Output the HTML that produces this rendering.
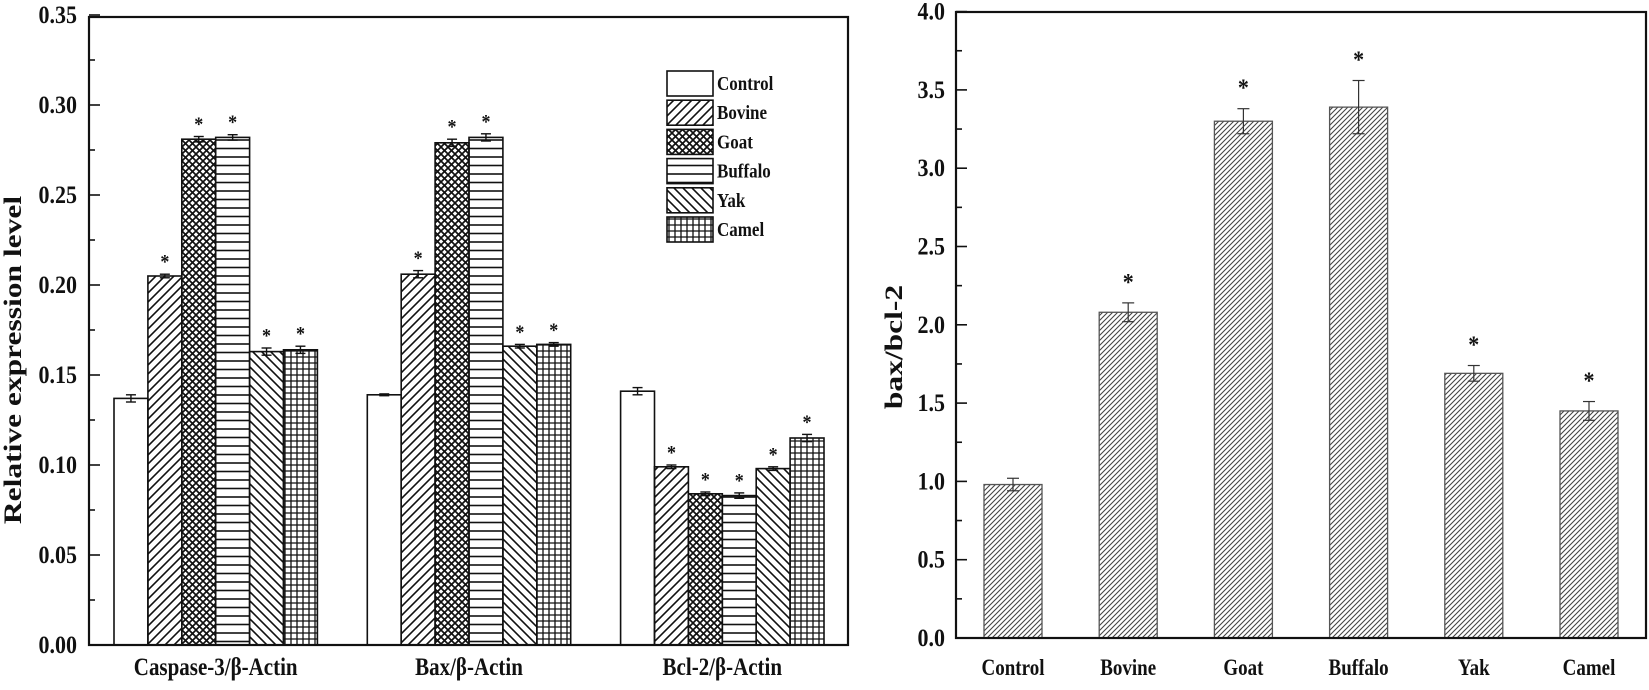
<!DOCTYPE html>
<html><head><meta charset="utf-8"><style>
html,body{margin:0;padding:0;background:#fff;}
svg text{font-family:"Liberation Serif",serif;font-weight:bold;fill:#111;}
</style></head><body>
<svg id="s" width="1649" height="685" viewBox="0 0 1649 685" xmlns="http://www.w3.org/2000/svg">
<defs>
<pattern id="pBov" patternUnits="userSpaceOnUse" width="9" height="9"><path d="M-2,11 L11,-2 M-2,2 L2,-2 M7,11 L11,7" stroke="#111" stroke-width="1.6"/></pattern>
<pattern id="pYak" patternUnits="userSpaceOnUse" width="9" height="9"><path d="M-2,-2 L11,11 M-2,7 L2,11 M7,-2 L11,2" stroke="#111" stroke-width="1.6"/></pattern>
<pattern id="pGoat" patternUnits="userSpaceOnUse" width="7" height="7"><path d="M0,0 L7,7 M7,0 L0,7" stroke="#111" stroke-width="1.7"/></pattern>
<pattern id="pBuf" patternUnits="userSpaceOnUse" width="8" height="8.5"><path d="M0,4 L8,4" stroke="#111" stroke-width="1.6"/></pattern>
<pattern id="pCam" patternUnits="userSpaceOnUse" width="6" height="6"><path d="M0,3 L6,3 M3,0 L3,6" stroke="#111" stroke-width="1.3"/></pattern>
<pattern id="pR" patternUnits="userSpaceOnUse" width="5" height="5"><path d="M-1,6 L6,-1 M-1,1 L1,-1 M4,6 L6,4" stroke="#444" stroke-width="1.1"/></pattern>
</defs>
<g id="g"></g>
</svg>
<script>
var g=document.getElementById('g'),h='';
function T(x,y,s,fs,anc,sy,rot){sy=sy||1.18;var tr='translate('+x+','+y+')'+(rot?' rotate(-90)':'')+' scale(1,'+sy+')';
h+='<text transform="'+tr+'" font-size="'+fs+'" text-anchor="'+(anc||'middle')+'">'+s+'</text>';}
function L(a,b,c,d,w,col){h+='<line x1="'+a+'" y1="'+b+'" x2="'+c+'" y2="'+d+'" stroke="'+(col||'#111')+'" stroke-width="'+(w||1.5)+'"/>';}
var L0=89,R0=848,T0=17,B0=645;function yl(v){return B0-v*1800;}
var pats=['#fff','url(#pBov)','url(#pGoat)','url(#pBuf)','url(#pYak)','url(#pCam)'];
var data=[[.137,.205,.281,.282,.163,.164],[.139,.206,.279,.282,.166,.167],[.141,.099,.084,.083,.098,.115]];
var err=[[.002,.001,.0015,.0015,.002,.002],[.0005,.002,.002,.002,.001,.001],[.002,.001,.001,.0015,.001,.002]];
var bw=33.9;
for(var gi=0;gi<3;gi++)for(var i=0;i<6;i++){var x=114+gi*253.3+i*bw,v=data[gi][i],y=yl(v);
h+='<rect x="'+x+'" y="'+y+'" width="'+bw+'" height="'+(B0-y)+'" fill="'+pats[i]+'" stroke="#111" stroke-width="1.6"/>';
var cx=x+bw/2,e=err[gi][i]*1800;L(cx,y-e,cx,y+e,1.4);L(cx-5,y-e,cx+5,y-e,1.4);L(cx-5,y+e,cx+5,y+e,1.4);
if(i>0)T(cx,y-e-6,'*',18,'middle',1.1);}
h+='<rect x="'+L0+'" y="'+T0+'" width="'+(R0-L0)+'" height="'+(B0-T0)+'" fill="none" stroke="#111" stroke-width="2.2"/>';
for(var k=0;k<=14;k++){var y=yl(k*0.025);L(L0,y,L0+(k%2?6:11),y,1.6);}
var lab=['0.00','0.05','0.10','0.15','0.20','0.25','0.30','0.35'];
for(var k=0;k<8;k++)T(77,yl(k*0.05)+8,lab[k],22,'end',1.15);
var gl=['Caspase-3/β-Actin','Bax/β-Actin','Bcl-2/β-Actin'];
for(var gi=0;gi<3;gi++)T(114+gi*253.3+3*bw,675,gl[gi],21,'middle',1.2);
T(21,360,'Relative expression level',31.5,'middle',0.8,true);
var ln=['Control','Bovine','Goat','Buffalo','Yak','Camel'];
for(var i=0;i<6;i++){var y=71+i*29.2;h+='<rect x="667" y="'+y+'" width="46" height="25" fill="'+pats[i]+'" stroke="#111" stroke-width="1.6"/>';T(717,y+19,ln[i],17,'start',1.2);}
var L1=956,R1=1646,T1=12,B1=638;function yr(v){return B1-v*156.6;}
var rv=[.98,2.08,3.30,3.39,1.69,1.45],re=[.04,.06,.08,.17,.05,.06];
for(var i=0;i<6;i++){var x=984+i*115.2,y=yr(rv[i]);
h+='<rect x="'+x+'" y="'+y+'" width="58" height="'+(B1-y)+'" fill="url(#pR)" stroke="#555" stroke-width="1.3"/>';
var cx=x+29,e=re[i]*156.6;L(cx,y-e,cx,y+e,1.2,'#333');L(cx-6,y-e,cx+6,y-e,1.2,'#333');L(cx-6,y+e,cx+6,y+e,1.2,'#333');
if(i>0)T(cx,y-e-13,'*',22,'middle',1.1);
T(cx,675,ln[i],19,'middle',1.2);}
h+='<rect x="'+L1+'" y="'+T1+'" width="'+(R1-L1)+'" height="'+(B1-T1)+'" fill="none" stroke="#111" stroke-width="2.2"/>';
for(var k=0;k<=16;k++){var y=yr(k*0.25);L(L1,y,L1+(k%2?6:11),y,1.6);}
for(var k=0;k<=8;k++)T(945,yr(k*0.5)+8,(k*0.5).toFixed(1),22,'end',1.15);
T(902,347,'bax/bcl-2',31.5,'middle',0.8,true);
g.innerHTML=h;
</script>
</body></html>
